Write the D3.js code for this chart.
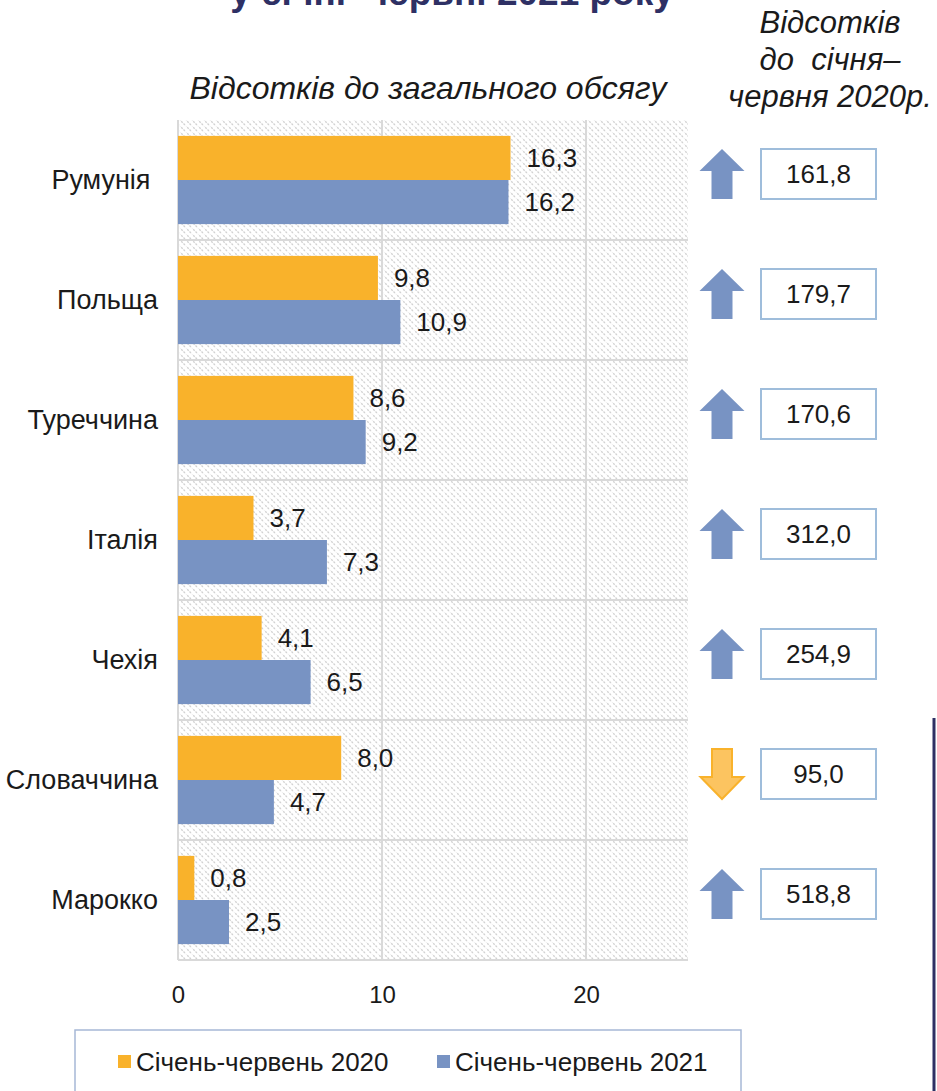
<!DOCTYPE html>
<html>
<head>
<meta charset="utf-8">
<script src="https://cdn.jsdelivr.net/npm/d3@7"></script>
<style>
  body { margin: 0; background: #fff; }
  text { font-family: "Liberation Sans", Arial, sans-serif; fill: #1a1a1a; }
</style>
</head>
<body>
<div id="chart"></div>
<script>
// data
var countries = ["Румунія\u00a0", "Польща", "Туреччина", "Італія", "Чехія", "Словаччина", "Марокко"];
var share2020 = [16.3, 9.8, 8.6, 3.7, 4.1, 8.0, 0.8];
var share2021 = [16.2, 10.9, 9.2, 7.3, 6.5, 4.7, 2.5];
var growth = [161.8, 179.7, 170.6, 312.0, 254.9, 95.0, 518.8];
var xTicks = [0, 10, 20];
var seriesNames = ["Січень-червень 2020", "Січень-червень 2021"];

var W = 937, H = 1091;
var orange = "#f9b22b", blue = "#7893c3", navy = "#2e3064", grid = "#d9d9d9";
const fmt = v => d3.format(".1f")(v).replace(".", ",");

var rows = countries.map((c, i) => ({name: c, a: share2020[i], b: share2021[i], g: growth[i]}));

var svg = d3.select("#chart").append("svg")
  .attr("width", W)
  .attr("height", H);

// hatch fill of the plot area
var pat = svg.append("defs").append("pattern")
  .attr("id", "hatch")
  .attr("patternUnits", "userSpaceOnUse")
  .attr("width", 6).attr("height", 6);
pat.append("rect").attr("width", 6).attr("height", 6).attr("fill", "#fff");
pat.append("path")
  .attr("d", "M-1,-1L7,7M-4,2L2,8M4,-2L8,2")
  .attr("stroke", "#d2d2d2")
  .attr("stroke-width", 1.3)
  .attr("stroke-dasharray", "2,1.2");

var x = d3.scaleLinear().domain([0, 25]).range([178, 688]);
var y = d3.scaleBand().domain(countries).range([120, 960]);
var inner = d3.scaleBand().domain(["a", "b"]).range([0, y.bandwidth()]).paddingOuter(0.36);

// title (cut by the top edge, as in the source page)
svg.append("text")
  .attr("x", 452).attr("y", 5)
  .attr("text-anchor", "middle")
  .style("font-size", "37px").style("font-weight", "bold").style("fill", navy)
  .text("у січні–червні 2021 року");

svg.append("text")
  .attr("x", 428).attr("y", 99)
  .attr("text-anchor", "middle")
  .style("font-size", "32px").style("font-style", "italic")
  .text("Відсотків до загального обсягу");

var hdr = svg.append("text")
  .attr("text-anchor", "middle")
  .style("font-size", "31px").style("font-style", "italic");
["Відсотків", "до  січня–", "червня 2020р."].forEach(function(s, i) {
  hdr.append("tspan").attr("x", 830).attr("y", 33 + i * 37)
    .style("white-space", "pre").text(s);
});

// plot area
svg.append("rect")
  .attr("x", x(0)).attr("y", y.range()[0])
  .attr("width", x(25) - x(0)).attr("height", y.range()[1] - y.range()[0])
  .attr("fill", "url(#hatch)");

svg.append("g").selectAll("line.v")
  .data(xTicks)
  .enter().append("line")
  .attr("x1", d => x(d)).attr("x2", d => x(d))
  .attr("y1", y.range()[0]).attr("y2", y.range()[1])
  .attr("stroke", grid).attr("stroke-width", 2);

svg.append("g").selectAll("line.h")
  .data(countries)
  .enter().append("line")
  .attr("x1", x(0)).attr("x2", x(25))
  .attr("y1", d => y(d) + y.bandwidth())
  .attr("y2", d => y(d) + y.bandwidth())
  .attr("stroke", grid).attr("stroke-width", 2);

// bars
var g = svg.append("g").selectAll("g")
  .data(rows)
  .enter().append("g")
  .attr("transform", d => "translate(0," + y(d.name) + ")");

g.append("rect")
  .attr("x", x(0)).attr("y", inner("a"))
  .attr("width", d => x(d.a) - x(0)).attr("height", inner.bandwidth())
  .attr("fill", orange);
g.append("rect")
  .attr("x", x(0)).attr("y", inner("b"))
  .attr("width", d => x(d.b) - x(0)).attr("height", inner.bandwidth())
  .attr("fill", blue);

g.append("text")
  .attr("x", d => x(d.a) + 16).attr("y", inner("a") + inner.bandwidth() / 2)
  .attr("dy", "0.35em").style("font-size", "26px")
  .text(d => fmt(d.a));
g.append("text")
  .attr("x", d => x(d.b) + 16).attr("y", inner("b") + inner.bandwidth() / 2)
  .attr("dy", "0.35em").style("font-size", "26px")
  .text(d => fmt(d.b));

// category labels
g.append("text")
  .attr("x", 158).attr("y", y.bandwidth() / 2)
  .attr("dy", "0.35em").attr("text-anchor", "end")
  .style("font-size", "27px")
  .text(d => d.name);

// x axis labels
var ax = svg.append("g")
  .attr("transform", "translate(0," + y.range()[1] + ")")
  .call(d3.axisBottom(x).tickValues(xTicks).tickSize(0).tickPadding(26));
ax.select(".domain").remove();
ax.selectAll("text").style("font-size", "24px").attr("fill", "#1a1a1a");

// growth arrows and boxes
function arrowPath(up) {
  // 45 wide, 50 tall, centred on 0,0
  if (up) return "M0,-25L22.5,-3L10.5,-3L10.5,25L-10.5,25L-10.5,-3L-22.5,-3Z";
  return "M-10,-25L10,-25L10,3L21.5,3L0,25L-21.5,3L-10,3Z";
}
var side = g.append("g")
  .attr("transform", "translate(0," + (y.bandwidth() / 2 - 6) + ")");
side.append("path")
  .attr("transform", "translate(722,0)")
  .attr("d", d => arrowPath(d.g >= 100))
  .attr("fill", d => d.g >= 100 ? blue : "#fcc460")
  .attr("stroke", d => d.g >= 100 ? "none" : orange)
  .attr("stroke-width", 2);
side.append("rect")
  .attr("x", 761).attr("y", -25)
  .attr("width", 115).attr("height", 50)
  .attr("fill", "#fff").attr("stroke", "#9fbddb").attr("stroke-width", 2);
side.append("text")
  .attr("x", 818.5).attr("dy", "0.35em")
  .attr("text-anchor", "middle").style("font-size", "26px")
  .text(d => fmt(d.g));

// legend
svg.append("rect")
  .attr("x", 75).attr("y", 1030)
  .attr("width", 666).attr("height", 80)
  .attr("fill", "#fff").attr("stroke", "#a7b8d6").attr("stroke-width", 1.5);
var lg = svg.append("g").selectAll("g")
  .data(seriesNames)
  .enter().append("g")
  .attr("transform", (d, i) => "translate(" + (118 + i * 319) + ",1062)");
lg.append("rect")
  .attr("x", 0).attr("y", -7).attr("width", 13).attr("height", 13)
  .attr("fill", (d, i) => i === 0 ? orange : blue);
lg.append("text")
  .attr("x", 18).attr("dy", "0.35em").style("font-size", "26px")
  .text(d => d);

// page rule on the right
svg.append("line")
  .attr("x1", 934).attr("x2", 934).attr("y1", 718).attr("y2", H)
  .attr("stroke", navy).attr("stroke-width", 3);
</script>
</body>
</html>
